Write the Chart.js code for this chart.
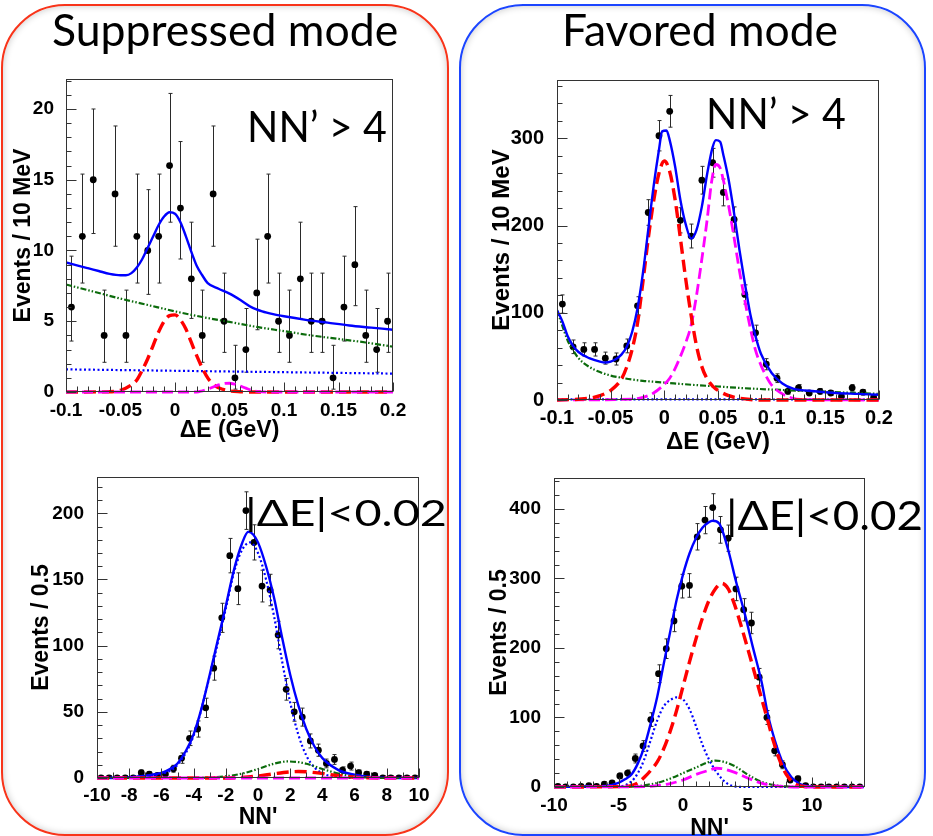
<!DOCTYPE html>
<html>
<head>
<meta charset="utf-8">
<script src="https://cdn.jsdelivr.net/npm/chart.js@4.4.1/dist/chart.umd.min.js"></script>
<style>
  html, body { margin: 0; padding: 0; background: #fff; width: 933px; height: 836px; overflow: hidden; }
  .box { position: absolute; box-sizing: border-box; border-radius: 64px; box-shadow: inset 0 0 7px rgba(0,0,0,0.22); z-index: 0; }
  #boxSup { left: 1px; top: 4px; width: 448px; height: 832px; border: 2px solid #f8341a; }
  #boxFav { left: 459px; top: 4px; width: 467px; height: 832px; border: 2px solid #1b45ff; }
  canvas { position: absolute; left: 0; top: 0; z-index: 1; }
  .txt { position: absolute; font-family: Lato, "Open Sans", sans-serif; line-height: 1; white-space: nowrap; color: #000; z-index: 2; transform-origin: left top; }
</style>
</head>
<body>
<div class="box" id="boxSup"></div>
<div class="box" id="boxFav"></div>

<canvas id="supDe" width="933" height="860"></canvas>
<canvas id="favDe" width="933" height="860"></canvas>
<canvas id="supNn" width="933" height="860"></canvas>
<canvas id="favNn" width="933" height="860"></canvas>

<div class="txt" style="left:52px;top:7px;font-size:45px" data-w="346">Suppressed mode</div>
<div class="txt" style="left:562px;top:7px;font-size:45px" data-w="276">Favored mode</div>
<div class="txt" style="left:247px;top:105px;font-size:42px" data-w="140">NN’ &gt; 4</div>
<div class="txt" style="left:706px;top:92px;font-size:42px" data-w="140">NN’ &gt; 4</div>
<div class="txt" style="left:245px;top:493px;font-size:37px" data-w="202">|ΔE|&lt;0.02</div>
<div class="txt" style="left:726px;top:495px;font-size:40px" data-w="197">|ΔE|&lt;0.02</div>

<script>
// ---- Delta E, 10 MeV bins (both modes) ----
const deBins = [-0.095,-0.085,-0.075,-0.065,-0.055,-0.045,-0.035,-0.025,-0.015,-0.005,0.005,0.015,0.025,0.035,0.045,0.055,0.065,0.075,0.085,0.095,0.105,0.115,0.125,0.135,0.145,0.155,0.165,0.175,0.185,0.195];
const deTicks = [-0.1,-0.05,0,0.05,0.1,0.15,0.2];

// suppressed mode, NN' > 4
const supDeCounts = [6,11,15,4,14,4,11,10,11,16,13,8,4,14,5,1,3,7,11,5,4,8,5,5,1,6,9,4,3,5];
const supDeLow  = [3.6,7.7,11.2,2.1,10.3,2.1,7.7,6.9,7.7,12.0,9.4,5.2,2.1,10.3,2.8,0.2,1.4,4.4,7.7,2.8,2.1,5.2,2.8,2.8,0.2,3.6,6.1,2.1,1.4,2.8];
const supDeHigh = [9.6,15.4,20.0,7.2,18.8,7.2,15.4,14.3,15.4,21.1,17.7,12.0,7.2,18.8,8.4,3.3,5.9,10.8,15.4,8.4,7.2,12.0,8.4,8.4,3.3,9.6,13.1,7.2,5.9,8.4];
const supDeYTicks = [0,5,10,15,20];

const supDeTotX = [-0.1,-0.09,-0.08,-0.07,-0.06,-0.05,-0.045,-0.04,-0.035,-0.03,-0.025,-0.02,-0.015,-0.01,-0.005,0,0.005,0.01,0.015,0.02,0.025,0.03,0.04,0.05,0.06,0.07,0.08,0.09,0.1,0.12,0.14,0.16,0.18,0.2];
const supDeTotY = [9.15,8.95,8.75,8.55,8.35,8.25,8.25,8.4,8.8,9.4,10.2,11.0,11.8,12.4,12.7,12.6,12.0,11.0,9.9,8.9,8.25,7.7,7.3,6.95,6.5,6.0,5.7,5.5,5.35,5.1,4.9,4.7,4.55,4.4];
const supDeSigX = [-0.1,-0.06,-0.05,-0.04,-0.035,-0.03,-0.025,-0.02,-0.015,-0.01,-0.005,0,0.005,0.01,0.015,0.02,0.025,0.03,0.035,0.04,0.05,0.06,0.07,0.2];
const supDeSigY = [0,0.02,0.12,0.5,0.85,1.55,2.35,3.3,4.25,5.0,5.4,5.45,5.1,4.45,3.5,2.55,1.7,1.0,0.55,0.3,0.08,0.02,0,0];
const supDeFeedX = [-0.1,0.02,0.025,0.03,0.035,0.04,0.045,0.05,0.055,0.06,0.065,0.07,0.075,0.085,0.2];
const supDeFeedY = [0,0,0.08,0.2,0.35,0.5,0.6,0.62,0.55,0.42,0.27,0.13,0.05,0,0];
const supDeBkgX = [-0.1,-0.075,-0.05,-0.025,0,0.025,0.05,0.075,0.1,0.125,0.15,0.175,0.2];
const supDeBkgY = [7.6,7.1,6.6,6.15,5.7,5.3,4.95,4.6,4.3,4.0,3.75,3.5,3.2];
const supDeFlatX = [-0.1,0.2];
const supDeFlatY = [1.6,1.3];

// favored mode, NN' > 4
const favDeCounts = [110,61,58,58,48,47,62,108,215,303,331,206,188,252,272,238,207,121,77,41,25,10,14,8,10,8,4,14,9,3];
const favDeErr = [10.5,7.8,7.6,7.6,6.9,6.9,7.9,10.4,14.7,17.4,18.2,14.4,13.7,15.9,16.5,15.4,14.4,11,8.8,6.4,5,3.2,3.7,2.8,3.2,2.8,2,3.7,3,1.7];
const favDeYTicks = [0,100,200,300];

const favDeTotX = [-0.1,-0.095,-0.09,-0.085,-0.08,-0.07,-0.06,-0.055,-0.05,-0.045,-0.04,-0.035,-0.03,-0.025,-0.02,-0.015,-0.01,-0.005,-0.002,0.002,0.005,0.01,0.015,0.02,0.025,0.03,0.035,0.04,0.045,0.048,0.052,0.055,0.06,0.065,0.07,0.075,0.08,0.085,0.09,0.1,0.11,0.12,0.14,0.16,0.18,0.2];
const favDeTotY = [103,90,73,62,55,48,44,43,44,47,52,61,78,105,145,195,245,287,308,309,298,268,229,201,185,195,222,260,290,298,296,281,252,214,172,134,99,73,53,31,19,13,10,8,7,6];
const favDeSigX = [-0.1,-0.07,-0.06,-0.05,-0.04,-0.035,-0.03,-0.025,-0.02,-0.015,-0.01,-0.005,0,0.005,0.01,0.015,0.02,0.025,0.03,0.035,0.04,0.045,0.05,0.06,0.07,0.08,0.09,0.2];
const favDeSigY = [0,2,5,11,24,38,58,88,135,185,228,260,274,262,230,185,138,97,62,38,24,16,11,5,2,0.5,0,0];
const favDeFeedX = [-0.1,-0.03,-0.02,-0.01,0,0.005,0.01,0.015,0.02,0.025,0.03,0.035,0.04,0.044,0.048,0.052,0.055,0.06,0.065,0.07,0.075,0.08,0.085,0.09,0.095,0.1,0.11,0.12,0.13,0.2];
const favDeFeedY = [0,1,3,8,18,25,36,50,66,86,120,162,208,250,270,266,252,222,186,148,114,83,57,40,27,17,7,2,0.5,0];
const favDeBkgX = [-0.1,-0.095,-0.09,-0.085,-0.08,-0.07,-0.06,-0.05,-0.04,-0.03,-0.02,-0.01,0,0.025,0.05,0.075,0.1,0.15,0.2];
const favDeBkgY = [103,85,68,57,48,38,32,28,25.5,23.5,22,21,20,17.5,15.5,13.5,12,9.5,7];
const favDeFlatX = [-0.1,0.2];
const favDeFlatY = [0.8,0.5];

// ---- NN', |dE| < 0.02 ----
const nnBinsSup = [-9.75,-9.25,-8.75,-8.25,-7.75,-7.25,-6.75,-6.25,-5.75,-5.25,-4.75,-4.25,-3.75,-3.25,-2.75,-2.25,-1.75,-1.25,-0.75,-0.25,0.25,0.75,1.25,1.75,2.25,2.75,3.25,3.75,4.25,4.75,5.25,5.75,6.25,6.75,7.25,7.75,8.25,8.75,9.25,9.75];
const nnTicksSup = [-10,-8,-6,-4,-2,0,2,4,6,8,10];
const supNnCounts = [0,0,0,0,0,4,3,2,3,7,15,30,37,53,83,121,168,143,202,178,145,142,108,67,50,46,28,21,11,14,6,9,4,3,2,0,0,0,0,0];
const supNnErr = [1.8,1.8,1.8,1.8,1.8,2,1.7,1.4,1.7,2.6,3.9,5.5,6.1,7.3,9.1,11,13,12,14.2,13.3,12,11.9,10.4,8.2,7.1,6.8,5.3,4.6,3.3,3.7,2.4,3,2,1.7,1.4,1.8,1.8,1.8,1.8,1.8];
const supNnYTicks = [0,50,100,150,200];

const supNnTotX = [-10,-8,-7,-6,-5.5,-5,-4.5,-4,-3.5,-3,-2.5,-2,-1.5,-1,-0.6,-0.3,0,0.5,1,1.5,2,2.5,3,3.5,4,5,6,7,8,10];
const supNnTotY = [0,0.4,1.8,3.8,6.5,11,20,33,53,78,104,130,157,177,186,184,178,160,136,106,78,55,37,24,15,6,2.5,0.8,0.2,0];
const supNnBbX = [-10,-7,-6,-5,-4,-3,-2,-1.5,-1,-0.5,0,0.5,1,1.5,2,2.5,3,3.5,4,5,6,10];
const supNnBbY = [0,1.5,3,10,32,77,128,155,172,178,170,150,122,88,57,33,17,8,3.5,0.6,0,0];
const supNnBkgX = [-10,-4,-3,-2,-1,0,1,1.8,2.5,3,4,5,6,7,8,10];
const supNnBkgY = [0,0,0.4,1.3,3.3,6.8,10.8,12.5,12,10.8,6.8,3.3,1.2,0.3,0,0];
const supNnSigX = [-10,-2,-1,0,1,2,2.5,3,4,5,6,7,8,10];
const supNnSigY = [0,0,0.5,1.5,3.2,4.6,4.9,4.7,3.4,1.8,0.6,0.1,0,0];
const supNnFeedX = [-10,10];
const supNnFeedY = [0,0];

const nnBinsFav = [-9.7,-9.1,-8.5,-7.9,-7.3,-6.7,-6.1,-5.5,-4.9,-4.3,-3.7,-3.1,-2.5,-1.9,-1.3,-0.7,-0.1,0.5,1.1,1.7,2.3,2.9,3.5,4.1,4.7,5.3,5.9,6.5,7.1,7.7,8.3,8.9,9.5,10.1,10.7,11.3,11.9,12.5,13.1,13.7];
const nnTicksFav = [-10,-5,0,5,10];
const favNnCounts = [1,0,0,1,2,1,4,6,16,20,41,59,97,163,199,239,289,290,360,384,402,370,358,285,255,236,158,100,52,32,10,12,2,0,0,0,0,0,0,0];
const favNnErr = [1,1.8,1.8,1,1.4,1,2,2.4,4,4.5,6.4,7.7,9.8,12.8,14.1,15.5,17,17,19,19.6,20,19.2,18.9,16.9,16,15.4,12.6,10,7.2,5.7,3.2,3.5,1.4,1.8,1.8,1.8,1.8,1.8,1.8,1.8];
const favNnYTicks = [0,100,200,300,400];

const favNnTotX = [-10,-7,-6,-5,-4.5,-4,-3.5,-3,-2.5,-2,-1.5,-1,-0.5,0,0.5,1,1.5,2,2.3,2.8,3.5,4.1,4.8,5.4,6.1,6.6,7.1,7.75,8.4,9,9.5,10,14];
const favNnTotY = [0,0.8,1.5,6,11,18,34,58,92,130,177,223,269,306,336,358,373,381,383,379,341,296,248,202,150,102,68,34,14,5,2,0.5,0];
const favNnSigX = [-10,-5,-4,-3.5,-3,-2.5,-2,-1.5,-1,-0.5,0,0.5,1,1.5,2,2.5,3,3.5,4,4.5,5,5.5,6,6.5,7,7.5,8,8.5,9,9.5,10,14];
const favNnSigY = [0,0.5,2,6,14,24,36,55,80,110,145,180,213,243,268,285,293,285,262,232,200,167,133,100,66,38,18,7,2,0.5,0,0];
const favNnBbX = [-10,-5,-4,-3.5,-3,-2.5,-2,-1.5,-1,-0.5,0,0.5,1,1.5,2,2.5,3,3.5,4,5,14];
const favNnBbY = [0,0.8,8,20,40,68,96,116,125,129,126,112,88,61,40,24,12,4,1,0,0];
const favNnBkgX = [-10,-4,-3,-2,-1,0,1,2,2.5,3,4,5,6,7,8,9,14];
const favNnBkgY = [0,0.5,2.5,6,12,20,28,36,38,37,30,18,8,3,0.8,0,0];
const favNnFeedX = [-10,-3,-2,-1,0,1,2,2.6,3,4,5,6,7,8,9,14];
const favNnFeedY = [0,0.5,2,5,10,18,24,27,26.5,21,13,6,2,0.5,0,0];

// ---- styles ----
const PAGE_W = 933, PAGE_H = 860;
const LINE = {
  total: { color: "#0000ff", width: 2.4, dash: [] },
  sig:   { color: "#ff0000", width: 3.4, dash: [12, 6] },
  feed:  { color: "#ff00ff", width: 2.8, dash: [11, 5] },
  bkg:   { color: "#0b6b0b", width: 2.2, dash: [6, 2, 1.5, 2, 1.5, 2] },
  flat:  { color: "#0000ff", width: 2.2, dash: [2, 2.5] }
};

function curve(xs, ys, kind) {
  const s = LINE[kind];
  return {
    data: xs.map((x, i) => ({ x, y: ys[i] })),
    showLine: true,
    pointRadius: 0,
    borderColor: s.color,
    borderWidth: s.width,
    borderDash: s.dash,
    cubicInterpolationMode: "monotone",
    fill: false,
    clip: { left: 0, top: 0, right: 0, bottom: 3 }
  };
}

function points(xs, ys, extra) {
  return Object.assign({
    data: xs.map((x, i) => ({ x, y: ys[i] })),
    showLine: false,
    pointRadius: 3.4,
    pointHoverRadius: 3.4,
    backgroundColor: "#000",
    borderWidth: 0
  }, extra);
}

function fmt(v) {
  return String(+Number(v).toFixed(3));
}

// ROOT-ish frame, inner tick marks and error bars
const rootStyle = {
  id: "rootStyle",
  beforeDatasetsDraw(chart) {
    const { ctx, chartArea: a, scales: { y } } = chart;
    ctx.save();
    ctx.beginPath();
    ctx.rect(a.left, a.top - 1, a.width, a.height + 1);
    ctx.clip();
    ctx.strokeStyle = "#2a2a2a";
    ctx.lineWidth = 1;
    chart.data.datasets.forEach((ds, i) => {
      if (!ds.errs && !ds.errLo) return;
      chart.getDatasetMeta(i).data.forEach((pt, j) => {
        const v = ds.data[j].y;
        const lo = ds.errLo ? ds.errLo[j] : Math.max(v - ds.errs[j], 0);
        const hi = ds.errHi ? ds.errHi[j] : v + ds.errs[j];
        const x = Math.round(pt.x) + 0.5;
        const y1 = y.getPixelForValue(lo);
        const y2 = y.getPixelForValue(hi);
        ctx.beginPath();
        ctx.moveTo(x, y1); ctx.lineTo(x, y2);
        ctx.moveTo(x - 2, y1); ctx.lineTo(x + 2, y1);
        ctx.moveTo(x - 2, y2); ctx.lineTo(x + 2, y2);
        ctx.stroke();
      });
    });
    ctx.restore();
  },
  afterDatasetsDraw(chart, args, o) {
    const { ctx, chartArea: a, scales: { x, y } } = chart;
    ctx.save();
    ctx.strokeStyle = "#333";
    ctx.lineWidth = 1;
    const L = Math.round(a.left) + 0.5, T = Math.round(a.top) + 0.5;
    const R = Math.round(a.right) - 0.5, B = Math.round(a.bottom) - 0.5;
    ctx.strokeRect(L, T, R - L, B - T);

    const isMajor = (scale, v) => scale.ticks.some(t => Math.abs(t.value - v) < 1e-6);
    ctx.beginPath();
    for (let i = Math.ceil(y.min / o.yMinor - 1e-6); i * o.yMinor <= y.max + 1e-9; i++) {
      const v = i * o.yMinor;
      const py = Math.round(y.getPixelForValue(v)) + 0.5;
      const len = isMajor(y, v) ? o.yMajorLen : o.yMinorLen;
      ctx.moveTo(L, py); ctx.lineTo(L + len, py);
    }
    for (let i = Math.ceil(x.min / o.xMinor - 1e-6); i * o.xMinor <= x.max + 1e-9; i++) {
      const v = i * o.xMinor;
      const px = Math.round(x.getPixelForValue(v)) + 0.5;
      const len = isMajor(x, v) ? o.xMajorLen : o.xMinorLen;
      ctx.moveTo(px, B); ctx.lineTo(px, B - len);
    }
    ctx.stroke();
    ctx.restore();
  }
};

function makePanel(id, p) {
  const tickFont = { family: "'Liberation Sans', Arial, sans-serif", weight: "bold", size: p.tickSize, lineHeight: 1 };
  const titleFont = { family: "'Liberation Sans', Arial, sans-serif", weight: "bold", size: p.titleSize, lineHeight: 1 };
  const yLeft = p.yTitleX - p.titleSize / 2;
  const xBottom = p.xTitleY + p.titleSize / 2;
  return new Chart(document.getElementById(id), {
    type: "scatter",
    data: { datasets: p.datasets },
    options: {
      responsive: false,
      animation: false,
      events: [],
      layout: {
        padding: { left: yLeft, top: p.area.top, right: PAGE_W - p.area.right, bottom: PAGE_H - xBottom }
      },
      plugins: {
        legend: { display: false },
        tooltip: { enabled: false },
        rootStyle: p.ticks
      },
      scales: {
        x: {
          type: "linear", min: p.xMin, max: p.xMax,
          grid: { display: false }, border: { display: false },
          ticks: { font: tickFont, color: "#000", padding: p.xPad, maxRotation: 0, autoSkip: false, callback: fmt },
          afterBuildTicks: s => { s.ticks = p.xTicks.map(v => ({ value: v })); },
          afterFit: s => { s.height = xBottom - p.area.bottom; },
          title: { display: true, text: p.xTitle, font: titleFont, color: "#000", padding: 0 }
        },
        y: {
          type: "linear", min: 0, max: p.yMax,
          grid: { display: false }, border: { display: false },
          ticks: { font: tickFont, color: "#000", padding: p.yPad, autoSkip: false, callback: fmt },
          afterBuildTicks: s => { s.ticks = p.yTicks.map(v => ({ value: v })); },
          afterFit: s => { s.width = p.area.left - yLeft; },
          title: { display: true, text: p.yTitle, font: titleFont, color: "#000", padding: 0 }
        }
      }
    },
    plugins: [rootStyle]
  });
}

makePanel("supDe", {
  area: { left: 66, top: 79, right: 393, bottom: 392 },
  xMin: -0.1, xMax: 0.2, yMax: 22.12,
  xTicks: deTicks, yTicks: supDeYTicks,
  xTitle: "ΔE (GeV)", yTitle: "Events / 10 MeV",
  yTitleX: 24, xTitleY: 431, tickSize: 19, titleSize: 23, xPad: 1, yPad: 4,
  ticks: { xMinor: 0.01, yMinor: 1, xMajorLen: 9, xMinorLen: 5, yMajorLen: 10, yMinorLen: 5 },
  datasets: [
    curve(supDeFeedX, supDeFeedY, "feed"),
    curve(supDeSigX, supDeSigY, "sig"),
    curve(supDeTotX, supDeTotY, "total"),
    curve(supDeBkgX, supDeBkgY, "bkg"),
    curve(supDeFlatX, supDeFlatY, "flat"),
    points(deBins, supDeCounts, { errLo: supDeLow, errHi: supDeHigh })
  ]
});

makePanel("favDe", {
  area: { left: 557, top: 80, right: 879, bottom: 400 },
  xMin: -0.1, xMax: 0.2, yMax: 366.9,
  xTicks: deTicks, yTicks: favDeYTicks,
  xTitle: "ΔE (GeV)", yTitle: "Events / 10 MeV",
  yTitleX: 502, xTitleY: 442, tickSize: 20, titleSize: 24, xPad: 0, yPad: 5,
  ticks: { xMinor: 0.01, yMinor: 20, xMajorLen: 9, xMinorLen: 5, yMajorLen: 10, yMinorLen: 5 },
  datasets: [
    curve(favDeTotX, favDeTotY, "total"),
    curve(favDeSigX, favDeSigY, "sig"),
    curve(favDeFeedX, favDeFeedY, "feed"),
    curve(favDeBkgX, favDeBkgY, "bkg"),
    curve(favDeFlatX, favDeFlatY, "flat"),
    points(deBins, favDeCounts, { errs: favDeErr })
  ]
});

makePanel("supNn", {
  area: { left: 97, top: 477, right: 419, bottom: 778 },
  xMin: -10, xMax: 10, yMax: 227.4,
  xTicks: nnTicksSup, yTicks: supNnYTicks,
  xTitle: "NN'", yTitle: "Events / 0.5",
  yTitleX: 42, xTitleY: 818, tickSize: 19, titleSize: 23, xPad: 0, yPad: 5,
  ticks: { xMinor: 1, yMinor: 10, xMajorLen: 9, xMinorLen: 5, yMajorLen: 10, yMinorLen: 5 },
  datasets: [
    curve(supNnFeedX, supNnFeedY, "feed"),
    curve(supNnSigX, supNnSigY, "sig"),
    curve(supNnBkgX, supNnBkgY, "bkg"),
    curve(supNnTotX, supNnTotY, "total"),
    curve(supNnBbX, supNnBbY, "flat"),
    points(nnBinsSup, supNnCounts, { errs: supNnErr })
  ]
});

makePanel("favNn", {
  area: { left: 554, top: 478, right: 865, bottom: 787 },
  xMin: -10, xMax: 14.1, yMax: 444.6,
  xTicks: nnTicksFav, yTicks: favNnYTicks,
  xTitle: "NN'", yTitle: "Events / 0.5",
  yTitleX: 500, xTitleY: 829, tickSize: 19, titleSize: 23, xPad: 1, yPad: 5,
  ticks: { xMinor: 1, yMinor: 20, xMajorLen: 9, xMinorLen: 5, yMajorLen: 10, yMinorLen: 5 },
  datasets: [
    curve(favNnFeedX, favNnFeedY, "feed"),
    curve(favNnSigX, favNnSigY, "sig"),
    curve(favNnTotX, favNnTotY, "total"),
    curve(favNnBkgX, favNnBkgY, "bkg"),
    curve(favNnBbX, favNnBbY, "flat"),
    points(nnBinsFav, favNnCounts, { errs: favNnErr })
  ]
});

// stretch the slide texts to the widths seen in the picture
document.querySelectorAll("[data-w]").forEach(el => {
  const w = el.getBoundingClientRect().width;
  if (w > 0) el.style.transform = "scaleX(" + (Number(el.dataset.w) / w).toFixed(3) + ")";
});
</script>
</body>
</html>
